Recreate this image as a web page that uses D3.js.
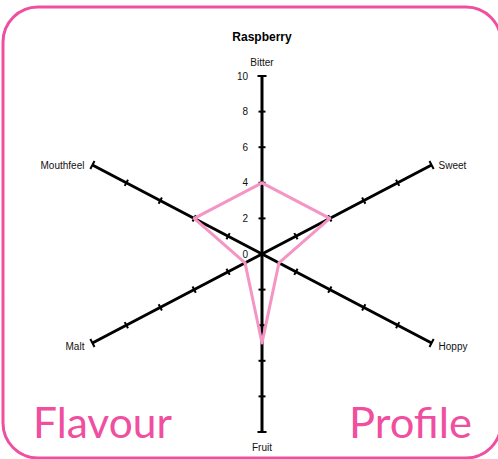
<!DOCTYPE html>
<meta charset="utf-8">
<body style="margin:0;background:#fff">
<script src="https://d3js.org/d3.v7.min.js"></script>
<style>
  body { font-family: "Liberation Sans", Arial, sans-serif; }
  .lbl { font-size: 10px; fill: #111; }
</style>
<script>
// chart data
var axes = ["Bitter", "Sweet", "Hoppy", "Fruit", "Malt", "Mouthfeel"];
var values = [4, 4, 1, 5, 1, 4];
var tickValues = [0, 2, 4, 6, 8, 10];

var W = 498, H = 459;
var cx = 262, cy = 254, sx = 1.1;

var svg = d3.select("body").append("svg")
    .attr("width", W)
    .attr("height", H);

// pink frame
svg.append("rect")
    .attr("x", 3).attr("y", 7)
    .attr("width", 498).attr("height", 451)
    .attr("rx", 35).attr("ry", 35)
    .attr("fill", "none")
    .attr("stroke", "#f04fa0")
    .attr("stroke-width", 3);

var r = d3.scaleLinear().domain([0, 10]).range([0, 178]);
var angle = d3.scaleLinear().domain([0, axes.length]).range([-Math.PI / 2, 1.5 * Math.PI]);

function pt(i, v) {
  var a = angle(i);
  return [cx + r(v) * Math.cos(a) * sx, cy + r(v) * Math.sin(a)];
}

var g = svg.append("g");

// axes with tick marks
axes.forEach(function(name, i) {
  var end = pt(i, 10);
  g.append("line")
      .attr("x1", cx).attr("y1", cy)
      .attr("x2", end[0]).attr("y2", end[1])
      .attr("stroke", "#000").attr("stroke-width", 3);
  var dx = end[0] - cx, dy = end[1] - cy, len = Math.sqrt(dx * dx + dy * dy);
  var px = -dy / len, py = dx / len;
  tickValues.slice(1).forEach(function(t) {
    var p = pt(i, t), h = t === 10 ? 4.5 : 3.5;
    g.append("line")
        .attr("x1", p[0] - px * h).attr("y1", p[1] - py * h)
        .attr("x2", p[0] + px * h).attr("y2", p[1] + py * h)
        .attr("stroke", "#000").attr("stroke-width", 2);
  });
});

// value labels on the first axis
g.selectAll(".tick")
  .data(tickValues)
  .enter().append("text")
    .attr("class", "lbl")
    .attr("x", cx - 14)
    .attr("y", function(d) { return cy - r(d); })
    .attr("dy", "0.35em")
    .attr("text-anchor", "end")
    .text(function(d) { return d; });

// series polygon
var line = d3.line().curve(d3.curveLinearClosed);
g.append("path")
    .attr("d", line(values.map(function(v, i) { return pt(i, v); })))
    .attr("fill", "none")
    .attr("stroke", "#f495c4")
    .attr("stroke-width", 3)
    .attr("stroke-linejoin", "round");

// axis names
var labelPos = [
  {dx: 0, dy: -14, anchor: "middle"},
  {dx: 7, dy: 0, anchor: "start"},
  {dx: 7, dy: 3, anchor: "start"},
  {dx: 0, dy: 15, anchor: "middle"},
  {dx: -8, dy: 3, anchor: "end"},
  {dx: -8, dy: 0, anchor: "end"}
];
axes.forEach(function(name, i) {
  var p = pt(i, 10);
  g.append("text")
      .attr("class", "lbl")
      .attr("x", p[0] + labelPos[i].dx)
      .attr("y", p[1] + labelPos[i].dy)
      .attr("dy", "0.35em")
      .attr("text-anchor", labelPos[i].anchor)
      .text(name);
});

// title
svg.append("text")
    .attr("x", cx).attr("y", 41)
    .attr("text-anchor", "middle")
    .style("font-size", "12px")
    .style("font-weight", "bold")
    .text("Raspberry");

// big pink words
svg.append("text")
    .attr("x", 33).attr("y", 438)
    .attr("textLength", 139)
    .attr("lengthAdjust", "spacingAndGlyphs")
    .style("font-family", "Lato, sans-serif")
    .style("font-size", "42px")
    .attr("fill", "#f04fa0")
    .text("Flavour");
svg.append("text")
    .attr("x", 349).attr("y", 438)
    .attr("textLength", 123)
    .attr("lengthAdjust", "spacingAndGlyphs")
    .style("font-family", "Lato, sans-serif")
    .style("font-size", "42px")
    .attr("fill", "#f04fa0")
    .text("Profile");
</script>
